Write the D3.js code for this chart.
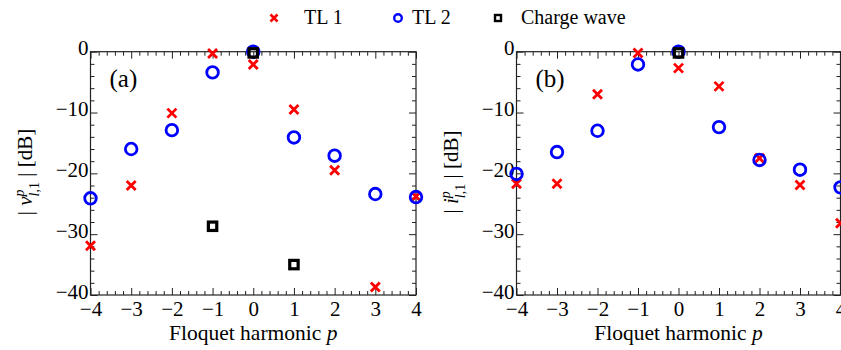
<!DOCTYPE html>
<html><head><meta charset="utf-8">
<script src="https://cdn.jsdelivr.net/npm/d3@7"></script>
<style>
body{margin:0;background:#fff;}
</style></head>
<body><svg id="c" width="841" height="350"></svg>
<script>
const harmonics = [-4,-3,-2,-1,0,1,2,3,4];
const tl1A = [-31.9,-22.0,-10.1,-0.3,-2.1,-9.5,-19.5,-38.7,-23.8];
const tl2A = [-24.1,-16.0,-12.9,-3.4,0.0,-14.1,-17.1,-23.4,-23.9];
const chargeHarmA = [-1,0,1];
const chargeA = [-28.7,-0.2,-35.0];
const tl1B = [-21.7,-21.7,-7.0,-0.2,-2.7,-5.7,-17.5,-21.9,-28.2];
const tl2B = [-20.1,-16.5,-13.0,-2.1,0.0,-12.4,-17.8,-19.4,-22.3];
const chargeHarmB = [0];
const chargeB = [-0.2];
const xTickVals = [-4,-3,-2,-1,0,1,2,3,4];
const yTickVals = [0,-10,-20,-30,-40];
const legendLabels = ["TL 1","TL 2","Charge wave"];
const panelLabels = ["(a)","(b)"];

const FONT = '"Liberation Serif"';
const svg = d3.select("#c");
const fmt = d => (d<0?"\u2212":"")+Math.abs(d);

function panel(o){
  const x = d3.scaleLinear().domain([-4,4]).range([o.x0,o.x1]);
  const y = d3.scaleLinear().domain([-40,0]).range([295,51.7]);
  const g = svg.append("g");
  const minorX = d3.range(-40,41,2).map(v=>v/10).filter(v=>Math.abs(v-Math.round(v))>1e-6);
  const minorY = d3.range(-40,1,2).filter(v=>v%10!==0);
  function styleAx(sel){
    sel.attr("font-family",null);
    sel.select(".domain").remove();
    sel.selectAll("line").attr("stroke","#222").attr("stroke-width",1);
    sel.selectAll("text").attr("font-size",21).attr("fill","#000").style("font-family",FONT);
  }
  g.append("g").attr("transform",`translate(0,295)`).call(d3.axisBottom(x).tickValues(xTickVals).tickFormat(fmt).tickSize(-7).tickPadding(6)).call(styleAx);
  g.append("g").attr("transform",`translate(0,295)`).call(d3.axisBottom(x).tickValues(minorX).tickFormat("").tickSize(-4)).call(styleAx);
  g.append("g").attr("transform",`translate(0,51.7)`).call(d3.axisTop(x).tickValues(xTickVals).tickFormat("").tickSize(-7)).call(styleAx);
  g.append("g").attr("transform",`translate(0,51.7)`).call(d3.axisTop(x).tickValues(minorX).tickFormat("").tickSize(-4)).call(styleAx);
  const ly = g.append("g").attr("transform",`translate(${o.x0},0)`).call(d3.axisLeft(y).tickValues(yTickVals).tickFormat(fmt).tickSize(-7).tickPadding(2)).call(styleAx);
  ly.selectAll("text").attr("dy","0.15em");
  g.append("g").attr("transform",`translate(${o.x0},0)`).call(d3.axisLeft(y).tickValues(minorY).tickFormat("").tickSize(-4)).call(styleAx);
  g.append("g").attr("transform",`translate(${o.x1},0)`).call(d3.axisRight(y).tickValues(yTickVals).tickFormat("").tickSize(-7)).call(styleAx);
  g.append("g").attr("transform",`translate(${o.x1},0)`).call(d3.axisRight(y).tickValues(minorY).tickFormat("").tickSize(-4)).call(styleAx);
  g.append("rect").attr("x",o.x0).attr("y",51.7).attr("width",o.x1-o.x0).attr("height",295-51.7)
    .attr("fill","none").attr("stroke","#222").attr("stroke-width",1.2);
  g.append("text").attr("x",o.x0+19).attr("y",87).attr("font-size",25).style("font-family",FONT).text(o.label);
  const xt = g.append("text").attr("x",(o.x0+o.x1)/2).attr("y",340).attr("text-anchor","middle").attr("font-size",21.5).style("font-family",FONT);
  xt.append("tspan").text("Floquet harmonic ");
  xt.append("tspan").attr("font-style","italic").text("p");
  const yt = g.append("text").attr("transform",`translate(${o.x0-59},172) rotate(-90)`).attr("text-anchor","middle").attr("font-size",21).style("font-family",FONT);
  yt.append("tspan").text("| ");
  yt.append("tspan").attr("font-style","italic").text(o.sym);
  yt.append("tspan").attr("font-style","italic").attr("font-size",14).attr("dy",-8).text("p");
  yt.append("tspan").attr("font-size",14).attr("dx",-7).attr("dy",15).html("<tspan font-style='italic'>l</tspan>,1");
  yt.append("tspan").attr("dy",-7).text("  |    [dB]");
  const m = g.append("g");
  const tl1 = m.append("g");
  harmonics.forEach((h,i)=>{
    const cx=x(h), cy=y(o.tl1[i]);
    tl1.append("path").attr("d",`M${cx-4.5},${cy-4.5}L${cx+4.5},${cy+4.5}M${cx-4.5},${cy+4.5}L${cx+4.5},${cy-4.5}`)
      .attr("stroke","#ff0000").attr("stroke-width",2.8).attr("fill","none");
  });
  m.append("g").selectAll("circle").data(harmonics).join("circle")
    .attr("cx",d=>x(d)).attr("cy",(d,i)=>y(o.tl2[i])).attr("r",5.8)
    .attr("fill","none").attr("stroke","#0000ff").attr("stroke-width",2.8);
  m.append("g").selectAll("rect").data(o.ch).join("rect")
    .attr("x",d=>x(d)-4.2).attr("y",(d,i)=>y(o.cv[i])-4.2).attr("width",8.4).attr("height",8.4)
    .attr("fill","none").attr("stroke","#000").attr("stroke-width",3.2);
}
panel({x0:90.5,x1:416,tl1:tl1A,tl2:tl2A,ch:chargeHarmA,cv:chargeA,label:panelLabels[0],sym:"v"});
panel({x0:516.5,x1:840.5,tl1:tl1B,tl2:tl2B,ch:chargeHarmB,cv:chargeB,label:panelLabels[1],sym:"i"});

const lg = svg.append("g");
const lx = [274,398,498], tx=[304,412,521];
lg.append("path").attr("d",`M${lx[0]-3.5},${18-3.5}L${lx[0]+3.5},${18+3.5}M${lx[0]-3.5},${18+3.5}L${lx[0]+3.5},${18-3.5}`).attr("stroke","#ff0000").attr("stroke-width",2.6);
lg.append("circle").attr("cx",lx[1]).attr("cy",18).attr("r",3.8).attr("fill","none").attr("stroke","#0000ff").attr("stroke-width",2.4);
lg.append("rect").attr("x",lx[2]-3).attr("y",15).attr("width",6).attr("height",6).attr("fill","none").attr("stroke","#000").attr("stroke-width",2.4);
legendLabels.forEach((t,i)=>lg.append("text").attr("x",tx[i]).attr("y",24).attr("font-size",20).style("font-family",FONT).text(t));
</script></body></html>
